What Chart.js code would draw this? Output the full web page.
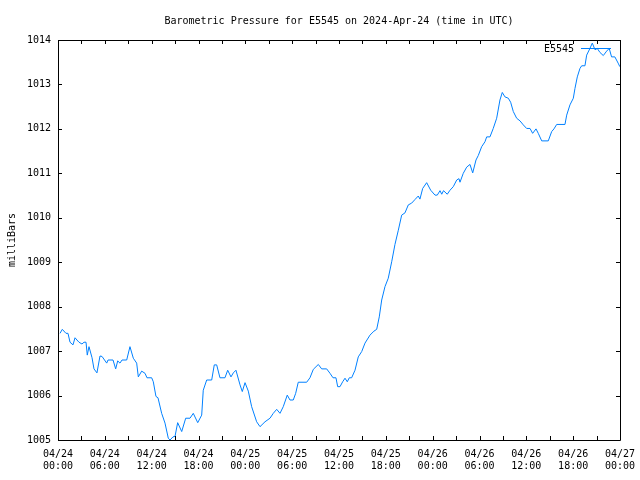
<!DOCTYPE html>
<html>
<head>
<meta charset="utf-8">
<script src="https://cdn.jsdelivr.net/npm/chart.js"></script>
<style>
  body { margin: 0; background: #fff; }
  canvas { display: block; }
</style>
</head>
<body>
<canvas id="pressureChart" width="640" height="480"></canvas>
<script>
  // hours since 2024-04-24 00:00 UTC
  const hours = [
    0.26, 0.55, 1.02, 1.28, 1.54, 1.92, 2.18, 2.43, 2.69, 3.07, 3.33, 3.59, 3.75, 3.97,
    4.36, 4.61, 4.99, 5.38, 5.64, 6.24, 6.41, 7.05, 7.39, 7.65, 7.94, 8.2, 8.8, 9.22,
    9.65, 10.08, 10.29, 10.72, 11.15, 11.4, 12.0, 12.21, 12.55, 12.81, 13.28, 13.71,
    14.13, 14.35, 14.73, 14.99, 15.33, 15.85, 16.36, 16.91, 17.33, 17.9, 18.41, 18.61,
    19.05, 19.69, 20.02, 20.33, 20.75, 21.39, 21.74, 22.16, 22.46, 22.8, 23.32, 23.61,
    23.96, 24.38, 24.81, 25.45, 25.88, 26.52, 27.16, 27.58, 28.02, 28.44, 28.86, 29.37,
    29.72, 30.14, 30.45, 30.78, 31.86, 32.28, 32.71, 33.35, 33.78, 34.42, 34.85, 35.23,
    35.61, 35.83, 36.13, 36.47, 36.77, 37.06, 37.32, 37.62, 38.05, 38.47, 38.91, 39.33,
    39.97, 40.48, 40.83, 41.16, 41.47, 41.89, 42.31, 42.75, 43.17, 43.6, 44.03, 44.45,
    44.88, 45.31, 45.73, 46.16, 46.37, 46.72, 47.23, 47.75, 48.3, 48.59, 48.94, 49.16,
    49.39, 49.87, 50.22, 50.64, 51.08, 51.37, 51.5, 51.92, 52.36, 52.78, 53.13, 53.55,
    53.84, 54.28, 54.7, 54.92, 55.34, 55.76, 56.2, 56.62, 56.92, 57.26, 57.69, 57.99,
    58.33, 58.76, 59.19, 59.61, 60.04, 60.47, 60.81, 61.24, 61.53, 61.97, 62.81, 63.25,
    63.54, 63.89, 64.95, 65.17, 65.59, 66.02, 66.23, 66.53, 66.87, 67.09, 67.51, 67.73,
    68.15, 68.45, 68.8, 69.09, 69.43, 69.86, 70.29, 70.62, 70.92, 71.34, 71.76, 71.98
  ];
  const pressure = [
    1007.4, 1007.49, 1007.4, 1007.4, 1007.2, 1007.14, 1007.3, 1007.25, 1007.2, 1007.16, 1007.2, 1007.2, 1006.91, 1007.1,
    1006.85, 1006.6, 1006.51, 1006.89, 1006.88, 1006.73, 1006.8, 1006.8, 1006.6, 1006.78, 1006.73, 1006.8, 1006.8, 1007.1,
    1006.84, 1006.73, 1006.42, 1006.55, 1006.5, 1006.4, 1006.4, 1006.31, 1005.98, 1005.95, 1005.6, 1005.38,
    1005.04, 1005.0, 1005.07, 1005.08, 1005.39, 1005.19, 1005.49, 1005.49, 1005.6, 1005.39, 1005.56, 1006.12,
    1006.35, 1006.35, 1006.69, 1006.69, 1006.4, 1006.4, 1006.57, 1006.42, 1006.51, 1006.57, 1006.24, 1006.09,
    1006.29, 1006.1, 1005.75, 1005.41, 1005.3, 1005.41, 1005.49, 1005.6, 1005.69, 1005.6, 1005.75, 1006.01,
    1005.9, 1005.9, 1006.05, 1006.3, 1006.3, 1006.4, 1006.59, 1006.7, 1006.6, 1006.6, 1006.5, 1006.4,
    1006.4, 1006.2, 1006.2, 1006.31, 1006.39, 1006.31, 1006.4, 1006.4, 1006.57, 1006.87, 1006.99, 1007.18,
    1007.36, 1007.45, 1007.49, 1007.77, 1008.15, 1008.45, 1008.64, 1009.01, 1009.4, 1009.72, 1010.06, 1010.11,
    1010.29, 1010.33, 1010.41, 1010.49, 1010.42, 1010.66, 1010.79, 1010.62, 1010.51, 1010.51, 1010.61, 1010.53,
    1010.61, 1010.53, 1010.62, 1010.7, 1010.85, 1010.88, 1010.8, 1011.0, 1011.14, 1011.2, 1011.01, 1011.3,
    1011.4, 1011.6, 1011.71, 1011.82, 1011.82, 1012.01, 1012.24, 1012.65, 1012.82, 1012.72, 1012.69, 1012.6,
    1012.39, 1012.24, 1012.18, 1012.09, 1012.01, 1012.01, 1011.9, 1012.0, 1011.9, 1011.73, 1011.73, 1011.94,
    1012.0, 1012.1, 1012.1, 1012.31, 1012.54, 1012.69, 1012.91, 1013.17, 1013.36, 1013.42, 1013.42, 1013.66,
    1013.81, 1013.93, 1013.78, 1013.81, 1013.72, 1013.65, 1013.75, 1013.81, 1013.62, 1013.62, 1013.48, 1013.4
  ];
  // tick labels every 6 hours
  const tickDays = ["04/24", "04/24", "04/24", "04/24", "04/25", "04/25", "04/25", "04/25",
                    "04/26", "04/26", "04/26", "04/26", "04/27"];
  const tickTimes = ["00:00", "06:00", "12:00", "18:00", "00:00", "06:00", "12:00", "18:00",
                     "00:00", "06:00", "12:00", "18:00", "00:00"];

  const FONT = "'DejaVu Sans Mono', monospace";
  const lineColor = "rgb(0,128,255)";

  // gnuplot style frame, inward ticks on all four sides, and the key
  const framePlugin = {
    id: "frame",
    afterDraw(chart) {
      const ctx = chart.ctx;
      const a = chart.chartArea;
      const xs = chart.scales.x, ys = chart.scales.y;
      ctx.save();
      ctx.strokeStyle = "#000";
      ctx.lineWidth = 1;
      ctx.beginPath();
      ctx.rect(Math.round(a.left) + 0.5, Math.round(a.top) + 0.5,
               Math.round(a.right - a.left), Math.round(a.bottom - a.top));
      for (let h = 0; h <= 72; h += 3) {
        const px = Math.round(xs.getPixelForValue(h)) + 0.5;
        ctx.moveTo(px, a.bottom); ctx.lineTo(px, a.bottom - 4);
        ctx.moveTo(px, a.top); ctx.lineTo(px, a.top + 4);
      }
      for (let v = 1005; v <= 1014; v++) {
        const py = Math.round(ys.getPixelForValue(v)) + 0.5;
        ctx.moveTo(a.left, py); ctx.lineTo(a.left + 4, py);
        ctx.moveTo(a.right, py); ctx.lineTo(a.right - 4, py);
      }
      ctx.stroke();

      // key
      ctx.font = "10px " + FONT;
      ctx.fillStyle = "#000";
      ctx.textAlign = "right";
      ctx.textBaseline = "middle";
      ctx.fillText(chart.data.datasets[0].label, 574, 49);
      ctx.strokeStyle = lineColor;
      ctx.beginPath();
      ctx.moveTo(581, 48.5); ctx.lineTo(611, 48.5);
      ctx.stroke();
      ctx.restore();
    }
  };

  new Chart(document.getElementById("pressureChart").getContext("2d"), {
    type: "line",
    data: {
      datasets: [{
        label: "E5545",
        data: hours.map((h, i) => ({ x: h, y: pressure[i] })),
        borderColor: lineColor,
        borderWidth: 1,
        pointRadius: 0,
        fill: false,
        tension: 0
      }]
    },
    options: {
      responsive: false,
      animation: false,
      layout: { padding: { left: 0, right: 20, top: 0, bottom: 0 } },
      plugins: {
        legend: { display: false },
        tooltip: { enabled: false },
        title: {
          display: true,
          fullSize: false,
          text: "Barometric Pressure for E5545 on 2024-Apr-24 (time in UTC)",
          color: "#000",
          font: { family: FONT, size: 10, weight: "normal" },
          padding: { top: 15, bottom: 13 }
        }
      },
      scales: {
        x: {
          type: "linear",
          min: 0,
          max: 72,
          grid: { display: false, drawTicks: false },
          border: { display: false },
          afterFit(scale) {
            scale.height = 40;
            scale.paddingLeft = 0;
            scale.paddingRight = 0;
          },
          ticks: {
            stepSize: 6,
            padding: 8,
            maxRotation: 0,
            autoSkip: false,
            color: "#000",
            font: { family: FONT, size: 10, lineHeight: 1.25 },
            callback: (v) => [tickDays[v / 6], tickTimes[v / 6]]
          }
        },
        y: {
          min: 1005,
          max: 1014,
          grid: { display: false, drawTicks: false },
          border: { display: false },
          afterFit(scale) { scale.width = 58; },
          title: {
            display: true,
            text: "milliBars",
            color: "#000",
            font: { family: FONT, size: 10 },
            padding: { top: 6, bottom: 0 }
          },
          ticks: {
            stepSize: 1,
            padding: 7,
            color: "#000",
            font: { family: FONT, size: 10 },
            callback: (v) => String(v)
          }
        }
      }
    },
    plugins: [framePlugin]
  });
</script>
</body>
</html>
